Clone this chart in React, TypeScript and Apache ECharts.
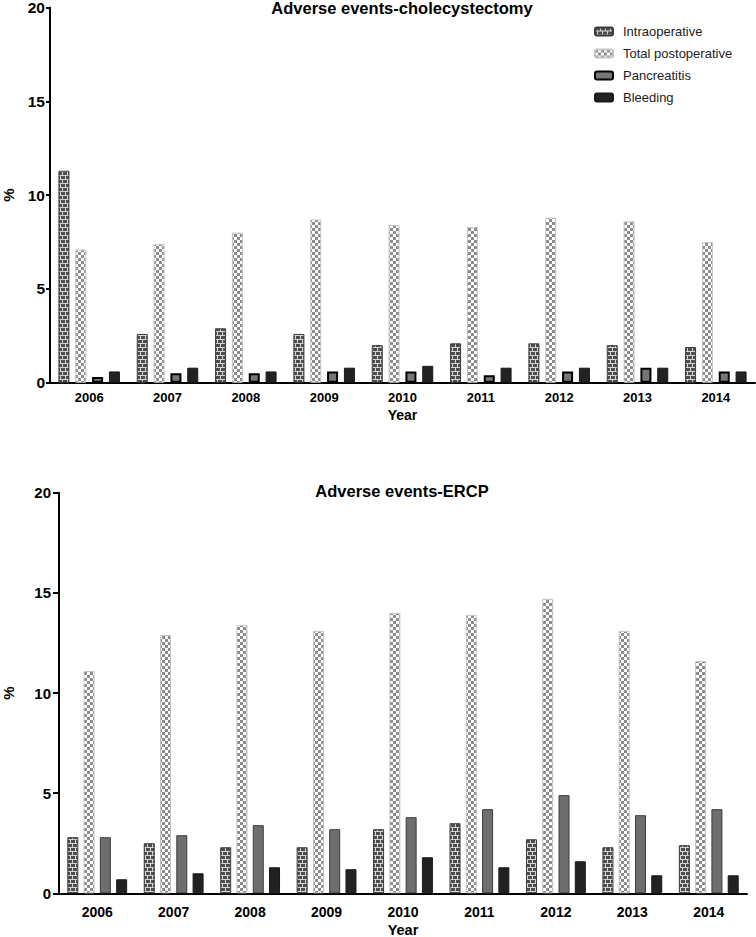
import React, { useEffect, useRef } from "react";
import * as echarts from "echarts";

const years = ["2006", "2007", "2008", "2009", "2010", "2011", "2012", "2013", "2014"];
const seriesNames = ["Intraoperative", "Total postoperative", "Pancreatitis", "Bleeding"];

const cholIntraoperative = [11.3, 2.6, 2.9, 2.6, 2.0, 2.1, 2.1, 2.0, 1.9];
const cholTotalPostoperative = [7.1, 7.4, 8.0, 8.7, 8.4, 8.3, 8.8, 8.6, 7.5];
const cholPancreatitis = [0.3, 0.5, 0.5, 0.6, 0.6, 0.4, 0.6, 0.8, 0.6];
const cholBleeding = [0.6, 0.8, 0.6, 0.8, 0.9, 0.8, 0.8, 0.8, 0.6];

const ercpIntraoperative = [2.8, 2.5, 2.3, 2.3, 3.2, 3.5, 2.7, 2.3, 2.4];
const ercpTotalPostoperative = [11.1, 12.9, 13.4, 13.1, 14.0, 13.9, 14.7, 13.1, 11.6];
const ercpPancreatitis = [2.8, 2.9, 3.4, 3.2, 3.8, 4.2, 4.9, 3.9, 4.2];
const ercpBleeding = [0.7, 1.0, 1.3, 1.2, 1.8, 1.3, 1.6, 0.9, 0.9];

const titleTop = "Adverse events-cholecystectomy";
const titleBottom = "Adverse events-ERCP";
const yAxisName = "%";
const xAxisName = "Year";
const yMin = 0;
const yMax = 20;
const yInterval = 5;

const FONT = "'Liberation Sans', Arial, Helvetica, sans-serif";

function brickPattern(): any {
  const c = document.createElement("canvas");
  c.width = 10;
  c.height = 8;
  const g = c.getContext("2d")!;
  g.fillStyle = "#4d4d4d";
  g.fillRect(0, 0, 10, 8);
  g.fillStyle = "#d4d4d4";
  g.fillRect(0, 3, 10, 1);
  g.fillRect(0, 7, 10, 1);
  g.fillRect(0, 0, 1, 3);
  g.fillRect(5, 0, 1, 3);
  g.fillRect(2, 4, 1, 3);
  g.fillRect(7, 4, 1, 3);
  return { image: c.toDataURL(), repeat: "repeat", imageWidth: 10, imageHeight: 8 };
}

function checkerPattern(): any {
  const c = document.createElement("canvas");
  c.width = 6;
  c.height = 6;
  const g = c.getContext("2d")!;
  g.fillStyle = "#ffffff";
  g.fillRect(0, 0, 6, 6);
  g.fillStyle = "#8c8c8c";
  g.fillRect(0, 0, 3, 3);
  g.fillRect(3, 3, 3, 3);
  return { image: c.toDataURL(), repeat: "repeat", imageWidth: 6, imageHeight: 6 };
}

export default function App() {
  const ref = useRef<HTMLDivElement>(null);

  useEffect(() => {
    if (!ref.current) return;
    const chart = echarts.init(ref.current, null, { renderer: "svg" });
    const brick = brickPattern();
    const checker = checkerPattern();

    const makeSeries = (
      data: number[][],
      idx: number,
      top: boolean
    ): any[] => {
      const styles = [
        { color: brick, borderColor: "#3a3a3a", borderWidth: 1 },
        { color: checker, borderColor: "#c4c4c4", borderWidth: 1 },
        top
          ? { color: "#777777", borderColor: "#000000", borderWidth: 2 }
          : { color: "#6e6e6e", borderColor: "#3c3c3c", borderWidth: 1 },
        { color: "#222222", borderColor: "#1a1a1a", borderWidth: 1 },
      ];
      return data.map((d, i) => ({
        name: seriesNames[i],
        type: "bar",
        xAxisIndex: idx,
        yAxisIndex: idx,
        data: d,
        barWidth: 11,
        barGap: top ? "53%" : "48%",
        itemStyle: styles[i],
        emphasis: { disabled: true },
      }));
    };

    const axisLineStyle = { color: "#000", width: 2 };

    const option: any = {
      animation: false,
      backgroundColor: "#ffffff",
      textStyle: { fontFamily: FONT },
      graphic: [
        {
          type: "text",
          x: 402,
          y: 8,
          style: {
            text: titleTop,
            fill: "#000",
            font: `bold 16.5px ${FONT}`,
            align: "center",
            verticalAlign: "middle",
            textAlign: "center",
            textVerticalAlign: "middle",
          },
        },
        {
          type: "text",
          x: 402,
          y: 491,
          style: {
            text: titleBottom,
            fill: "#000",
            font: `bold 16.5px ${FONT}`,
            align: "center",
            verticalAlign: "middle",
            textAlign: "center",
            textVerticalAlign: "middle",
          },
        },
      ],
      legend: {
        orient: "vertical",
        left: 589,
        top: 20,
        itemWidth: 18,
        itemHeight: 8,
        itemGap: 9,
        data: seriesNames,
        textStyle: {
          fontFamily: FONT,
          fontSize: 13,
          color: "#222",
          padding: [0, 0, 0, 5],
        },
        selectedMode: false,
      },
      grid: [
        { left: 50, top: 7.5, width: 705, height: 375.2, containLabel: false, outerBoundsMode: "none" },
        { left: 59, top: 492.7, width: 688, height: 400.6, containLabel: false, outerBoundsMode: "none" },
      ],
      xAxis: [
        {
          type: "category",
          gridIndex: 0,
          data: years,
          name: xAxisName,
          nameLocation: "middle",
          nameGap: 25,
          nameTextStyle: { fontFamily: FONT, fontWeight: "bold", fontSize: 14, color: "#000" },
          axisLine: { lineStyle: axisLineStyle },
          axisTick: { show: false },
          axisLabel: { fontFamily: FONT, fontWeight: "bold", fontSize: 13, color: "#000", margin: 8 },
          splitLine: { show: false },
        },
        {
          type: "category",
          gridIndex: 1,
          data: years,
          name: xAxisName,
          nameLocation: "middle",
          nameGap: 29,
          nameTextStyle: { fontFamily: FONT, fontWeight: "bold", fontSize: 14.5, color: "#000" },
          axisLine: { lineStyle: axisLineStyle },
          axisTick: { show: false },
          axisLabel: { fontFamily: FONT, fontWeight: "bold", fontSize: 14, color: "#000", margin: 12 },
          splitLine: { show: false },
        },
      ],
      yAxis: [
        {
          type: "value",
          gridIndex: 0,
          min: yMin,
          max: yMax,
          interval: yInterval,
          name: yAxisName,
          nameLocation: "middle",
          nameGap: 35,
          nameTextStyle: { fontFamily: FONT, fontWeight: "bold", fontSize: 15, lineHeight: 13, color: "#000" },
          axisLine: { show: true, lineStyle: axisLineStyle },
          axisTick: { show: true, length: 4, lineStyle: { color: "#000", width: 2 } },
          axisLabel: { fontFamily: FONT, fontWeight: "bold", fontSize: 15.5, lineHeight: 12, color: "#000", margin: 5 },
          splitLine: { show: false },
        },
        {
          type: "value",
          gridIndex: 1,
          min: yMin,
          max: yMax,
          interval: yInterval,
          name: yAxisName,
          nameLocation: "middle",
          nameGap: 44,
          nameTextStyle: { fontFamily: FONT, fontWeight: "bold", fontSize: 15, lineHeight: 13, color: "#000" },
          axisLine: { show: true, lineStyle: axisLineStyle },
          axisTick: { show: true, length: 6, lineStyle: { color: "#000", width: 2 } },
          axisLabel: { fontFamily: FONT, fontWeight: "bold", fontSize: 15, color: "#000", margin: 8 },
          splitLine: { show: false },
        },
      ],
      series: [
        ...makeSeries([cholIntraoperative, cholTotalPostoperative, cholPancreatitis, cholBleeding], 0, true),
        ...makeSeries([ercpIntraoperative, ercpTotalPostoperative, ercpPancreatitis, ercpBleeding], 1, false),
      ],
    };

    chart.setOption(option);
    return () => {
      chart.dispose();
    };
  }, []);

  return (
    <div
      ref={ref}
      style={{ position: "fixed", left: 0, top: 0, width: 756, height: 937, background: "#fff" }}
    />
  );
}
